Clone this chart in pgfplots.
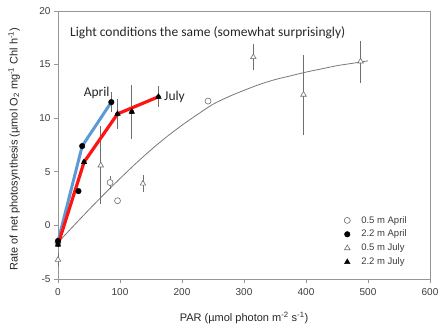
\documentclass[border=0pt]{standalone}
\usepackage{pgfplots}
\pgfplotsset{compat=1.18}
\usepackage{pgfplotstable}
\usepackage{fontspec}
\setmainfont{Liberation Sans}
\newfontfamily\calibri{Carlito}
\definecolor{axgray}{RGB}{150,150,150}
\definecolor{txtgray}{RGB}{60,60,60}
\definecolor{bline}{RGB}{91,155,213}
\definecolor{rline}{RGB}{255,20,20}
\definecolor{egray}{RGB}{110,110,110}
\definecolor{cgray}{RGB}{120,120,120}

\pgfplotstableread{
x y ep em
0 -1.6 0 0
84 4.0 0.6 0.6
96 2.3 0 0
242 11.6 0 0
}\aprA
\pgfplotstableread{
x y ep em
0 -1.45 0 0
33 3.2 0 0
39 7.4 0 0
86 11.5 0.9 0.9
}\aprB
\pgfplotstableread{
x y ep em
0 -3.2 0.6 0.6
69 5.6 3.7 3.6
137 3.9 0.8 0.8
315 15.7 1.25 1.25
396 12.2 3.7 3.8
488 15.3 1.9 2.0
}\julA
\pgfplotstableread{
x y ep em
0 -1.8 0 0
42 5.9 0 0
96 10.4 1.4 1.45
119 10.6 2.5 2.5
162 12.0 1.0 1.0
}\julB

\begin{document}
\begin{tikzpicture}
\begin{axis}[
 scale only axis, width=372pt, height=268pt,
 xmin=0, xmax=600, ymin=-5, ymax=20,
 xtick={0,100,...,600}, ytick={-5,0,...,20},
 tick pos=left, tick align=outside,
 major tick length=4pt,
 axis line style={axgray, line width=0.7pt},
 every tick/.style={axgray, line width=0.7pt},
 ticklabel style={font=\fontsize{10}{12}\selectfont, text=txtgray},
 xticklabel style={yshift=-2pt},
 /pgf/number format/assume math mode=true,
 xlabel={PAR (µmol photon m\textsuperscript{-2} s\textsuperscript{-1})},
 ylabel={Rate of net photosynthesis (µmol O\textsubscript{2} mg\textsuperscript{-1} Chl h\textsuperscript{-1})},
 label style={font=\fontsize{11}{13}\selectfont, text=black!85},
 x label style={at={(axis description cs:0.5,-0.145)}, anchor=center},
 y label style={at={(axis description cs:-0.118,0.485)}, anchor=center},
 legend style={draw=none, fill=none, at={(rel axis cs:0.769,0.2425)}, anchor=north west,
   font=\fontsize{9.5}{11.5}\selectfont, text=txtgray, row sep=1.5pt, inner sep=0pt,
   /tikz/every odd column/.append style={column sep=9pt}},
 legend cell align=left,
 legend image code/.code={\draw[#1] plot coordinates {(4pt,0pt)};},
 clip=false,
]
\addlegendimage{only marks, mark=*, mark size=3pt, mark options={draw=egray, fill=white, line width=0.6pt}}
\addlegendentry{0.5 m April}
\addlegendimage{only marks, mark=*, mark size=2.8pt, mark options={draw=black, fill=black}}
\addlegendentry{2.2 m April}
\addlegendimage{only marks, mark=triangle*, mark size=3.2pt, mark options={draw=egray, fill=white, line width=0.6pt}}
\addlegendentry{0.5 m July}
\addlegendimage{only marks, mark=triangle*, mark size=3.2pt, mark options={draw=black, fill=black}}
\addlegendentry{2.2 m July}

% fitted curve
\addplot[cgray, line width=0.8pt, smooth, forget plot] coordinates {
(0,-1.6) (25,-0.05) (50,1.47) (75,2.95) (100,4.37) (125,5.75) (150,7.05) (175,8.25)
(200,9.35) (225,10.35) (250,11.3) (275,12.0) (300,12.6) (325,13.15) (350,13.6)
(375,13.95) (400,14.3) (425,14.6) (450,14.9) (475,15.12) (500,15.35)};

% error bars + open markers
\addplot[only marks, forget plot, mark=*, mark size=3pt, mark options={draw=egray, fill=white, line width=0.6pt},
  error bars/.cd, y dir=both, y explicit, error mark=none, error bar style={egray, line width=0.8pt}]
  table[x=x, y=y, y error plus=ep, y error minus=em] {\aprA};
\addplot[only marks, forget plot, mark=triangle*, mark size=3.2pt, mark options={draw=egray, fill=white, line width=0.6pt},
  error bars/.cd, y dir=both, y explicit, error mark=none, error bar style={egray, line width=0.8pt}]
  table[x=x, y=y, y error plus=ep, y error minus=em] {\julA};
\addplot[only marks, forget plot, mark=none,
  error bars/.cd, y dir=both, y explicit, error mark=none, error bar style={egray, line width=0.8pt}]
  table[x=x, y=y, y error plus=ep, y error minus=em] {\julB};
\addplot[only marks, forget plot, mark=none,
  error bars/.cd, y dir=both, y explicit, error mark=none, error bar style={egray, line width=0.8pt}]
  table[x=x, y=y, y error plus=ep, y error minus=em] {\aprB};

% lines
\addplot[bline, line width=3pt, forget plot] coordinates {(0,-1.5) (39,7.4) (86,11.5)};
\addplot[rline, line width=3.2pt, forget plot] coordinates {(0,-1.8) (42,5.9) (96,10.4) (162,12.0)};

% filled markers
\addplot[only marks, forget plot, mark=*, mark size=2.8pt, mark options={draw=black, fill=black}]
  table[x=x, y=y] {\aprB};
\addplot[only marks, forget plot, mark=triangle*, mark size=3.2pt, mark options={draw=black, fill=black}]
  table[x=x, y=y] {\julB};

\node[anchor=west, inner sep=0pt, font=\calibri\fontsize{13.5}{16}\selectfont, text=black!85] at (axis cs:19.4,18.0) {Light conditions the same (somewhat surprisingly)};
\node[inner sep=0pt, font=\calibri\fontsize{13.5}{16}\selectfont, text=black!85] at (axis cs:62.4,12.4) {April};
\node[anchor=west, inner sep=0pt, font=\calibri\fontsize{13.5}{16}\selectfont, text=black!85] at (axis cs:171,12.0) {July};

\coordinate (BL) at (rel axis cs:0,0);
\coordinate (TR) at (rel axis cs:1,1);
\end{axis}
\pgfresetboundingbox
\path[use as bounding box] ([xshift=-58pt,yshift=-53pt]BL) rectangle ([xshift=9pt,yshift=11pt]TR);
\end{tikzpicture}
\end{document}
